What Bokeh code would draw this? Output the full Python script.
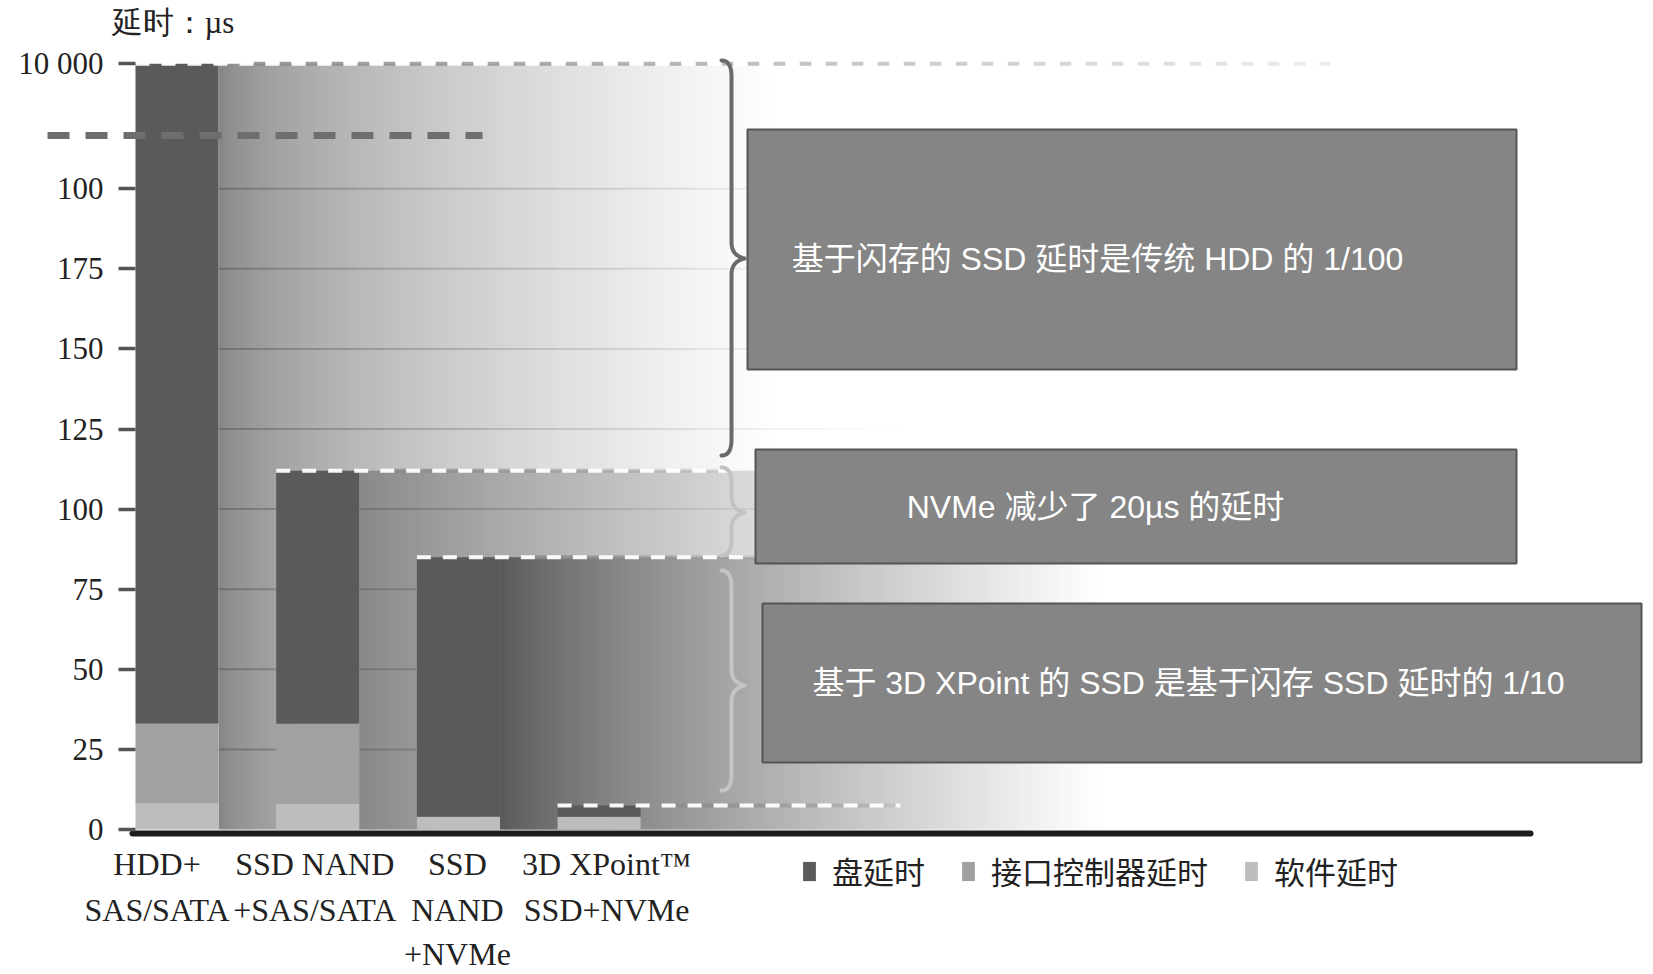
import numpy as np
from bokeh.plotting import figure
from bokeh.models import (Range1d, LinearAxis, FixedTicker, ColumnDataSource,
                          Legend, LegendItem)
from bokeh.core.properties import value
from bokeh.embed import file_html
from bokeh.resources import INLINE

# ---------------- data ----------------
categories = ["HDD+\nSAS/SATA", "SSD NAND\n+SAS/SATA", "SSD\nNAND\n+NVMe", "3D XPoint™\nSSD+NVMe"]
software = [8, 8, 4, 4]          # 软件延时
interface = [25, 25, 0, 0]       # 接口控制器延时
disk = [206, 79, 81, 3.5]        # 盘延时 (HDD reaches the 10 000 mark of the broken axis)
series_names = ["软件延时", "接口控制器延时", "盘延时"]
legend_order = ["盘延时", "接口控制器延时", "软件延时"]
tick_values = [0, 25, 50, 75, 100, 125, 150, 175, 200, 239]
tick_labels = ["0", "25", "50", "75", "100", "125", "150", "175", "100", "10 000"]
axis_break = 216.6
y_title = "延时：µs"
notes = ["基于闪存的 SSD 延时是传统 HDD 的 1/100",
         "NVMe 减少了 20µs 的延时",
         "基于 3D XPoint 的 SSD 是基于闪存 SSD 延时的 1/10"]

# ---------------- layout ----------------
W, H = 1650, 972
PX = 3.204          # pixels per unit on the y scale
Y0_PAGE = 829       # screen y of value 0


def uy(page_y):
    return (Y0_PAGE - page_y) / PX


BAR_X0, BAR_STEP, BAR_W = 176.5, 140.7, 83
centers = [BAR_X0 + i * BAR_STEP for i in range(len(categories))]
lefts = [c - BAR_W / 2 for c in centers]
rights = [c + BAR_W / 2 for c in centers]
totals = [s + i + d for s, i, d in zip(software, interface, disk)]

COL = {"软件延时": "#bdbdbd", "接口控制器延时": "#a1a1a1", "盘延时": "#5a5a5a"}
SERIF = "Liberation Serif"
SANS = value("Liberation Sans, Noto Sans CJK SC")

p = figure(width=W, height=H, x_range=Range1d(0, W),
           y_range=Range1d(uy(H), uy(0)),
           x_axis_location=None, y_axis_location=None,
           toolbar_location=None, output_backend="svg", min_border=0)
p.outline_line_color = None
p.background_fill_color = "white"
p.xgrid.visible = False
p.ygrid.visible = False


def gray(level):
    v = int(round(max(0, min(255, level))))
    return "#%02x%02x%02x" % (v, v, v)


def band(x0, top, c0, D, g, step=5):
    xs = np.arange(x0, x0 + D, step)
    cols = [gray(c0 + (255 - c0) * (((xl + step / 2 - x0) / D) ** g)) for xl in xs]
    p.quad(left=xs, right=xs + step + 0.6, bottom=0, top=top, fill_color=cols,
           line_color=None)


# gradient bands behind the bars
band(rights[0], totals[0], 130, 560, 0.6)
band(rights[1], totals[1], 136, 600, 0.9)

# faint fading grid lines
gx0, gx1, gy, ga = [], [], [], []
for v in tick_values[1:-1]:
    for s in np.arange(rights[0], 900, 34):
        gx0.append(s); gx1.append(s + 34); gy.append(v)
        ga.append(0.3 * (1 - (s - rights[0]) / (900 - rights[0])))
p.segment(x0=gx0, x1=gx1, y0=gy, y1=gy, line_color="#333333", line_alpha=ga, line_width=2)

band(rights[2], totals[2], 88, 600, 0.8)

# stacked bars
src = ColumnDataSource(dict(x=centers, 软件延时=software, 接口控制器延时=interface, 盘延时=disk))
rends = p.vbar_stack(series_names, x="x", width=BAR_W, source=src,
                     color=[COL[n] for n in series_names], line_color=None)
rmap = dict(zip(series_names, rends))

# dashed top lines
top_end = [1330, 730, 760, 900]
wx0, wx1, wy = [], [], []
qx0, qx1, qy, qa = [], [], [], []
for i, t in enumerate(totals):
    wx0.append(lefts[i]); wx1.append(top_end[i]); wy.append(t)
    s = lefts[i] + 14
    while s < top_end[i]:
        if s >= rights[i] - 2:
            frac = (s - rights[i]) / (top_end[i] - rights[i])
            qx0.append(s); qx1.append(min(s + 52, top_end[i])); qy.append(t)
            qa.append(0.75 * (1 - frac) + 0.15)
        s += 52
p.segment(x0=qx0, x1=qx1, y0=qy, y1=qy, line_color="#8c8c8c", line_alpha=qa,
          line_width=4, line_dash="12 14")
p.segment(x0=wx0, x1=wx1, y0=wy, y1=wy, line_color="white", line_alpha=0.95,
          line_width=4, line_dash="14 12")

# axis break line
p.segment(x0=[47], x1=[482], y0=[axis_break], y1=[axis_break], line_color="#6e6e6e",
          line_width=7, line_dash="22 16")

# annotation boxes
box_l = [747, 755, 762]
box_r = [1516, 1516, 1641]
box_t = [129, 449, 603]
box_b = [369, 563, 762]
p.quad(left=box_l, right=box_r, top=[uy(v) for v in box_t], bottom=[uy(v) for v in box_b],
       fill_color="#858585", line_color="#555555", line_width=2)
note_x = [1097, 1095, 1188]
note_y = [uy(258), uy(506), uy(682)]
p.text(x=note_x, y=note_y, text=notes, text_color="white", text_font=SANS,
       text_font_size="32px", text_align="center", text_baseline="middle")


# braces
def brace(x, top, bot, mid, color, tip=13, curl=10, r=16):
    pts = []

    def qb(p0, p1, p2, n=12):
        for k in range(n + 1):
            tt = k / n
            pts.append(((1 - tt) ** 2 * p0[0] + 2 * (1 - tt) * tt * p1[0] + tt ** 2 * p2[0],
                        (1 - tt) ** 2 * p0[1] + 2 * (1 - tt) * tt * p1[1] + tt ** 2 * p2[1]))
    qb((x - curl, top), (x, top), (x, top + r))
    qb((x, mid - r), (x, mid - 3), (x + tip, mid))
    qb((x + tip, mid), (x, mid + 3), (x, mid + r))
    qb((x, bot - r), (x, bot), (x - curl, bot))
    p.line([q[0] for q in pts], [uy(q[1]) for q in pts], line_color=color,
           line_width=4, line_cap="round", line_join="round")


brace(731, 60, 455, 258, "#6a6a6a")
brace(731, 467, 555, 512, "#c2c2c2")
brace(731, 570, 790, 685, "#c4c4c4")

# baseline
p.segment(x0=[132], x1=[1530], y0=[uy(833)], y1=[uy(833)], line_color="#1c1c1c",
          line_width=6, line_cap="round")

# category labels
lab_dx = [-20, -3, -1, 7.5]
line_y = [863, 909, 953]
lx, ly, lt = [], [], []
for i, c in enumerate(categories):
    for j, line in enumerate(c.split("\n")):
        lx.append(centers[i] + lab_dx[i]); ly.append(uy(line_y[j])); lt.append(line)
p.text(x=lx, y=ly, text=lt, text_font=value(SERIF), text_font_size="32px",
       text_color="#222222", text_align="center", text_baseline="middle")

# y title
p.text(x=[111], y=[uy(22)], text=[y_title], text_font=value(SERIF), text_font_size="31px",
       text_color="#222222", text_align="left", text_baseline="middle")

# y axis
yax = LinearAxis(fixed_location=lefts[0], ticker=FixedTicker(ticks=tick_values),
                 major_label_overrides={v: l for v, l in zip(tick_values, tick_labels)},
                 axis_line_alpha=0, major_tick_out=17, major_tick_in=0,
                 minor_tick_line_alpha=0, major_tick_line_width=3.5,
                 major_tick_line_color="#555555", major_label_standoff=15,
                 major_label_text_font=SERIF, major_label_text_font_size="31px",
                 major_label_text_color="#222222")
p.add_layout(yax, "left")

# legend
legend = Legend(items=[LegendItem(label=n, renderers=[rmap[n]]) for n in legend_order],
                orientation="horizontal", location=(801, H - 893), glyph_width=16,
                glyph_height=24, label_standoff=15, spacing=35, padding=0, margin=0,
                border_line_alpha=0, background_fill_alpha=0,
                label_text_font="Noto Sans CJK SC", label_text_font_size="31px",
                label_text_color="#222222")
p.add_layout(legend)

open("out.html", "w").write(file_html(p, INLINE))
